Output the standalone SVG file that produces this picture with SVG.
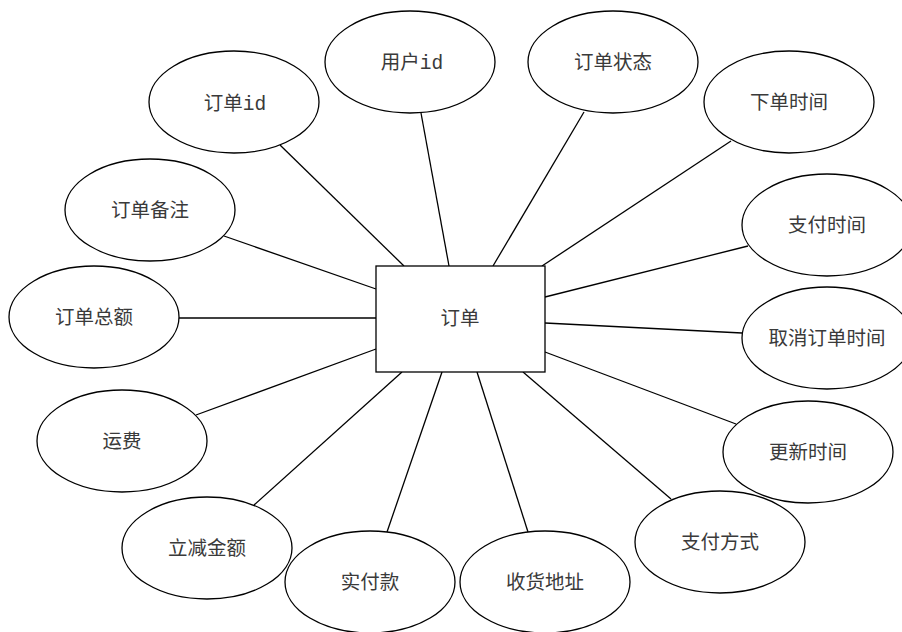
<svg xmlns="http://www.w3.org/2000/svg" width="902" height="632" viewBox="0 0 902 632">
<style>
.n ellipse, .n rect { fill: #ffffff; stroke: #000000; stroke-width: 1.3; }
.n text { font-family: "Liberation Mono", "Noto Sans CJK SC", monospace; font-size: 19.5px; fill: #3a3a3a; text-anchor: middle; dominant-baseline: central; }
#connectors line { stroke: #000000; stroke-width: 1.3; }
</style>
<rect width="902" height="632" fill="#ffffff"/>
<g id="connectors">
<line x1="280" y1="145" x2="404" y2="266"/>
<line x1="421" y1="113" x2="449" y2="266"/>
<line x1="584" y1="112" x2="493" y2="266"/>
<line x1="731" y1="141" x2="542" y2="266"/>
<line x1="748" y1="246" x2="545" y2="297"/>
<line x1="742" y1="333" x2="545" y2="323"/>
<line x1="736" y1="424" x2="545" y2="352"/>
<line x1="671" y1="499" x2="523" y2="372"/>
<line x1="528" y1="532" x2="477" y2="372"/>
<line x1="387" y1="532" x2="442" y2="372"/>
<line x1="254" y1="505" x2="402" y2="372"/>
<line x1="196" y1="415" x2="376" y2="349"/>
<line x1="179" y1="318" x2="376" y2="318"/>
<line x1="224" y1="236" x2="376" y2="289"/>
</g>
<g id="order" class="n"><rect x="376" y="266" width="169" height="106"/><text x="460" y="320">订单</text></g>
<g id="order_id" class="n"><ellipse cx="234" cy="102" rx="85" ry="51"/><text x="235" y="105">订单id</text></g>
<g id="user_id" class="n"><ellipse cx="410" cy="62" rx="85" ry="51"/><text x="412" y="64">用户id</text></g>
<g id="order_status" class="n"><ellipse cx="613" cy="62" rx="85" ry="51"/><text x="613" y="64">订单状态</text></g>
<g id="order_time" class="n"><ellipse cx="789" cy="102" rx="85" ry="51"/><text x="789" y="104">下单时间</text></g>
<g id="pay_time" class="n"><ellipse cx="827" cy="225" rx="85" ry="51"/><text x="827" y="227">支付时间</text></g>
<g id="cancel_time" class="n"><ellipse cx="827" cy="338" rx="85" ry="51"/><text x="827" y="340">取消订单时间</text></g>
<g id="update_time" class="n"><ellipse cx="808" cy="452" rx="85" ry="51"/><text x="808" y="454">更新时间</text></g>
<g id="pay_method" class="n"><ellipse cx="720" cy="542" rx="85" ry="51"/><text x="720" y="544">支付方式</text></g>
<g id="address" class="n"><ellipse cx="545" cy="582" rx="85" ry="51"/><text x="545" y="584">收货地址</text></g>
<g id="paid" class="n"><ellipse cx="370" cy="582" rx="85" ry="51"/><text x="370" y="584">实付款</text></g>
<g id="discount" class="n"><ellipse cx="207" cy="548" rx="85" ry="51"/><text x="207" y="550">立减金额</text></g>
<g id="freight" class="n"><ellipse cx="122" cy="441" rx="85" ry="51"/><text x="122" y="443">运费</text></g>
<g id="total" class="n"><ellipse cx="94" cy="317" rx="85" ry="51"/><text x="94" y="319">订单总额</text></g>
<g id="remark" class="n"><ellipse cx="150" cy="210" rx="85" ry="51"/><text x="150" y="212">订单备注</text></g>
</svg>
